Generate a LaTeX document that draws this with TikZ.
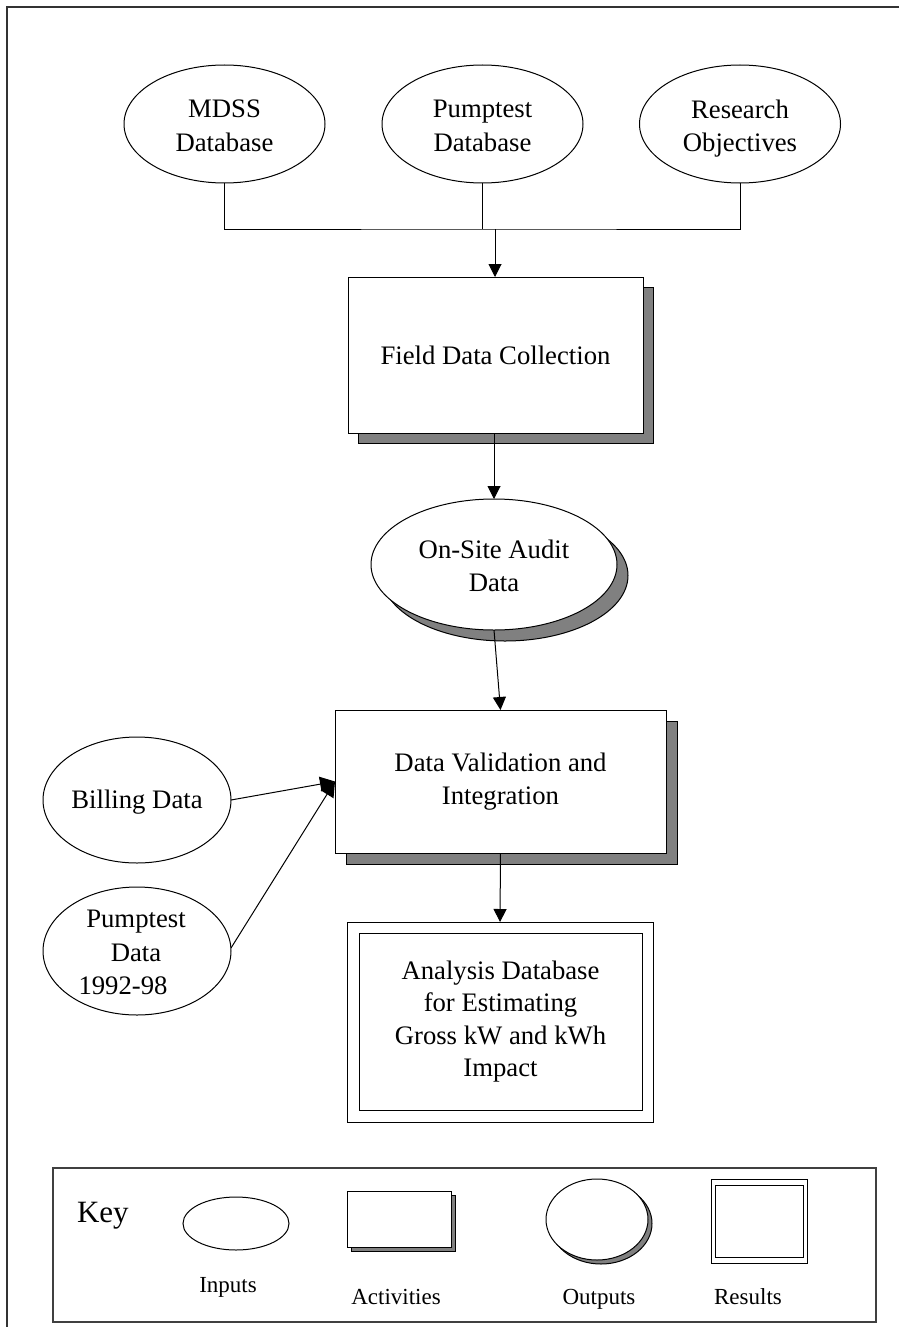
\documentclass[tikz,border=0pt]{standalone}
\usepackage{fontspec}
\setmainfont{Liberation Serif}
\usetikzlibrary{shapes.geometric,arrows.meta,shadows}
\begin{document}
\begin{tikzpicture}[x=1pt,y=-1pt,
  every node/.style={inner sep=0pt,outer sep=0pt},
  txt/.style={font=\fontsize{26.7}{33.5}\selectfont,align=center},
  keytxt/.style={font=\fontsize{23}{27}\selectfont,anchor=base},
  inp/.style={draw=black,line width=1pt,ellipse,fill=white},
  shad/.style={drop shadow={shadow xshift=#1,shadow yshift=-#1,fill=gray,draw=black,opacity=1}},
  actbox/.style={draw=black,line width=1pt,rectangle,fill=white,align=center,font=\fontsize{26.7}{33.5}\selectfont},
  resbox/.style={draw=black,line width=1pt,rectangle,fill=white},
  ln/.style={line width=1pt},
  arr/.style={line width=1pt,-{Triangle[length=13pt,width=13pt]}},
  bigarr/.style={line width=1pt,-{Triangle[length=15pt,width=15pt]}}]
\useasboundingbox (0,0) rectangle (899,1327);
% outer frame (only top and left edges visible)
\draw[line width=1.6pt,black!80] (899,7) -- (7,7) -- (7,1327);

% top inputs
\node[inp,minimum width=201pt,minimum height=118pt] (mdss) at (224.5,124) {};
\node[txt] (mdsst) at (224.5,126) {MDSS\\Database};
\node[inp,minimum width=201pt,minimum height=118pt] (pump) at (482.5,124) {};
\node[txt] (pumpt) at (482.5,126) {Pumptest\\Database};
\node[inp,minimum width=201pt,minimum height=118pt] (res) at (740,124) {};
\node[txt] (rest) at (740,128.5) {Research\\Objectives};

% field data collection
\node[actbox,shad=10pt,minimum width=295pt,minimum height=156pt] (field) at (495.5,355) {Field Data Collection};

\coordinate (j) at (495,229);
\draw[ln] (mdss.south) |- (j) -| (res.south);
\draw[ln] (pump.south) -- (pump.south |- j);
\draw[arr] (j) -- (j |- field.north);

% on-site audit data
\node[inp,shad=11pt,minimum width=246pt,minimum height=131pt] (ons) at (494,564.5) {};
\node[txt] (onst) at (494,566) {On-Site Audit\\Data};
\draw[arr] (field.south -| ons.north) -- (ons.north);

% data validation
\node[actbox,shad=11pt,minimum width=331pt,minimum height=143pt] (dv) at (500.5,781.5) {Data Validation and\\Integration};
\draw[arr] (ons.south) -- (dv.north);

% billing and pumptest data
\node[inp,minimum width=188pt,minimum height=126pt] (bill) at (137,800) {};
\node[txt] (billt) at (137,802.5) {Billing Data};
\node[inp,minimum width=188pt,minimum height=128pt] (pd) at (137,951) {};
\node[txt] (pdt) at (136,952.5) {Pumptest\\Data\\1992-98\hspace*{26pt}};
\draw[bigarr] (bill.east) -- (dv.west);
\draw[bigarr] ([yshift=3pt]pd.east) -- (dv.west);

% analysis database
\node[resbox,minimum width=306pt,minimum height=200pt] (an) at (500,1022) {};
\node[resbox,minimum width=283pt,minimum height=177pt,font=\fontsize{26.7}{32.3}\selectfont,align=center] (ani) at (500.5,1021.5) {Analysis Database\\for Estimating\\Gross kW and kWh\\Impact};
\draw[arr] (dv.south) -- (an.north);

% key
\node[draw=black!75,line width=1.3pt,minimum width=823pt,minimum height=154pt] (key) at (464.5,1245) {};
\node[font=\fontsize{31}{36}\selectfont,anchor=base west] (keyt) at (77,1222) {Key};
\node[inp,minimum width=106pt,minimum height=53pt] (kin) at (236,1223.5) {};
\node[actbox,shad=4pt,minimum width=104pt,minimum height=56pt] (kact) at (399,1219) {};
\node[inp,shad=4pt,minimum width=102pt,minimum height=81pt] (kout) at (597,1219.5) {};
\node[resbox,minimum width=96pt,minimum height=84pt] (kres) at (759,1221) {};
\node[resbox,minimum width=88pt,minimum height=72pt] (kresi) at (759,1221) {};
\node[keytxt] (kinl) at (228,1292) {Inputs};
\node[keytxt] (kactl) at (396,1304) {Activities};
\node[keytxt] (koutl) at (599,1304) {Outputs};
\node[keytxt] (kresl) at (748,1304) {Results};
\end{tikzpicture}
\end{document}
